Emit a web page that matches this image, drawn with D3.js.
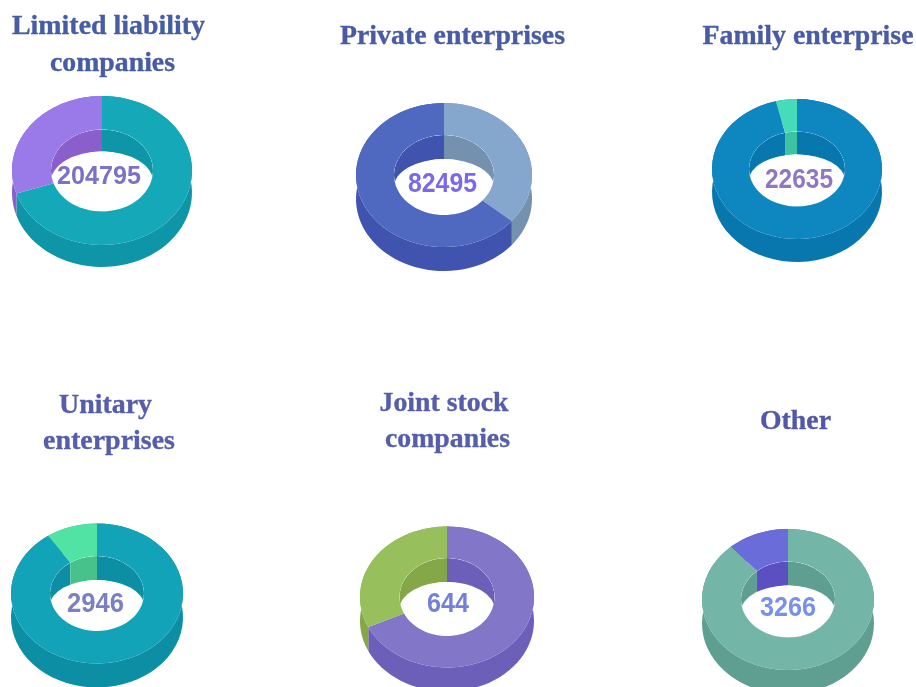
<!DOCTYPE html>
<html><head><meta charset="utf-8">
<script src="https://cdn.jsdelivr.net/npm/d3@7"></script>
<style>html,body{margin:0;padding:0;background:#fff;overflow:hidden}svg{display:block;filter:blur(.55px)}</style>
</head><body>
<svg id="c" width="916" height="687"></svg>
<script>
// ---- data ----
const categories = ["Limited liability companies","Private enterprises","Family enterprise","Unitary enterprises","Joint stock companies","Other"];
const totals = [204795, 82495, 22635, 2946, 644, 3266];
// share of each ring, clockwise from 12 o'clock
const sharesMain = [70, 64, 96, 90.4, 68, 88.5];
const sharesMinor = [30, 36, 4, 9.6, 32, 11.5];
// the private-enterprises ring starts with its light slice
const minorFirst = [false, true, false, false, false, false];

// ---- styling / layout ----
const topMain = ["#15a8b9","#5069c0","#0e87c1","#12a3b9","#8276c9","#73b5a7"];
const wallMain = ["#0e95a8","#3f53af","#0777ae","#0c8ea5","#6c5fba","#5f9f92"];
const topMinor = ["#9a7ae8","#85a6cd","#47dcb9","#50e3a4","#97c05c","#6a6dd9"];
const wallMinor = ["#8a5fcc","#7491b0","#3cc3a2","#46c28a","#84a848","#5a50c1"];
const labelColors = ["#7a72c9","#7a6ae8","#9078c0","#7a80c0","#7280d8","#7890e8"];
const geom = [
  {cx:102,cy:170.5,rx:90,ry:74.5,d:22,irx:51,iry:41},
  {cx:444,cy:175,rx:88,ry:72,d:24,irx:50,iry:40},
  {cx:797,cy:169,rx:85,ry:70,d:23,irx:48,iry:37.5},
  {cx:97,cy:593.5,rx:86,ry:70,d:24,irx:47,iry:37.5},
  {cx:447,cy:597,rx:87,ry:70.5,d:24,irx:47.5,iry:39},
  {cx:788,cy:599.5,rx:86,ry:70.5,d:24,irx:47,iry:38}
];
const labelPos = [
  {x:99,y:184,w:84,fs:25},{x:442.5,y:192,w:69,fs:28},{x:799,y:188,w:68,fs:28},
  {x:95.5,y:612,w:57,fs:28},{x:448,y:612,w:42,fs:27},{x:788,y:616,w:56,fs:27}
];
const titleLines = [
  [{t:"Limited liability",x:108.5,y:34,w:193},{t:"companies",x:112.5,y:71,w:125}],
  [{t:"Private enterprises",x:452.5,y:44,w:225}],
  [{t:"Family enterprise",x:808,y:44,w:211}],
  [{t:"Unitary",x:105.5,y:413,w:93},{t:"enterprises",x:109,y:449,w:132}],
  [{t:"Joint stock",x:444,y:411,w:129},{t:"companies",x:447.5,y:447,w:125}],
  [{t:"Other",x:795.5,y:429,w:71}]
];
const titleColors = ["#465ca4","#485ba4","#485ba4","#565eac","#565eac","#5258a8"];

const svg = d3.select("#c");
const defs = svg.append("defs");
const pie = d3.pie().sort(null).value(d => d.v).startAngle(0).endAngle(2*Math.PI);

function edge(g, a0, a1, rx, ry, dy){
  const X = d3.scaleLinear().domain([-1,1]).range([g.cx-rx, g.cx+rx]);
  const Y = d3.scaleLinear().domain([-1,1]).range([g.cy-ry, g.cy+ry]);
  return d3.range(61).map(i => {
    const a = a0 + (a1-a0)*i/60;
    return [X(Math.sin(a)), Y(-Math.cos(a)) + dy];
  });
}
// extruded wall between two angles of an ellipse
function wall(g, a0, a1, rx, ry){
  return d3.line()(edge(g,a0,a1,rx,ry,0).concat(edge(g,a0,a1,rx,ry,g.d).reverse())) + "Z";
}
// flat ring sector on the top face
function face(g, a0, a1){
  return d3.line()(edge(g,a0,a1,g.rx,g.ry,0).concat(edge(g,a0,a1,g.irx,g.iry,0).reverse())) + "Z";
}

categories.forEach((name, i) => {
  const g = geom[i];
  const items = minorFirst[i]
    ? [{v:sharesMinor[i],top:topMinor[i],wall:wallMinor[i]},{v:sharesMain[i],top:topMain[i],wall:wallMain[i]}]
    : [{v:sharesMain[i],top:topMain[i],wall:wallMain[i]},{v:sharesMinor[i],top:topMinor[i],wall:wallMinor[i]}];
  const arcs = pie(items);
  const ring = svg.append("g").attr("class","ring").attr("data-name",name);

  // outer wall
  ring.selectAll("path.outer").data(arcs).join("path").attr("class","outer")
    .attr("d", a => wall(g, a.startAngle, a.endAngle, g.rx, g.ry))
    .attr("fill", a => a.data.wall);

  // hole: far inner wall, clipped to the inner ellipse, then the visible opening
  const clipId = "hole"+i;
  defs.append("clipPath").attr("id",clipId).append("ellipse")
    .attr("cx",g.cx).attr("cy",g.cy).attr("rx",g.irx).attr("ry",g.iry);
  const hole = ring.append("g").attr("clip-path",`url(#${clipId})`);
  hole.selectAll("path").data(arcs).join("path")
    .attr("d", a => wall(g, a.startAngle, a.endAngle, g.irx, g.iry))
    .attr("fill", a => a.data.wall);
  hole.append("ellipse").attr("cx",g.cx).attr("cy",g.cy+g.d/2).attr("rx",g.irx).attr("ry",g.iry-g.d/2).attr("fill","#fff");

  // top face, drawn last so it seals the rim of the hole
  ring.selectAll("path.face").data(arcs).join("path").attr("class","face")
    .attr("d", a => face(g, a.startAngle, a.endAngle))
    .attr("fill", a => a.data.top);

  // centre value
  const lp = labelPos[i];
  svg.append("text").attr("x",lp.x).attr("y",lp.y).attr("text-anchor","middle")
    .attr("textLength",lp.w).attr("lengthAdjust","spacingAndGlyphs")
    .attr("font-family","'Liberation Sans',Arial,sans-serif").attr("font-weight","bold")
    .attr("font-size",lp.fs).attr("fill",labelColors[i]).text(totals[i]);

  // title
  svg.selectAll(null).data(titleLines[i]).join("text")
    .attr("x",d=>d.x).attr("y",d=>d.y).attr("text-anchor","middle")
    .attr("textLength",d=>d.w).attr("lengthAdjust","spacingAndGlyphs")
    .attr("font-family","'Liberation Serif','Times New Roman',serif").attr("font-weight","bold")
    .attr("font-size",27).attr("fill",titleColors[i])
    .attr("stroke",titleColors[i]).attr("stroke-width",.35).text(d=>d.t);
});
</script>
</body></html>
